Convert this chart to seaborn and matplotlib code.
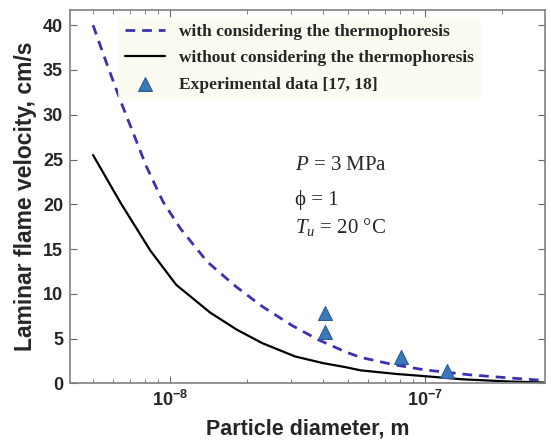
import numpy as np
import pandas as pd
import matplotlib
matplotlib.use("Agg")
import matplotlib.pyplot as plt
import seaborn as sns
from matplotlib.ticker import LogLocator, NullFormatter, MultipleLocator

# ---- data ----
diam_with = [5e-9, 5.66e-9, 6.4e-9, 7.2e-9, 8.1e-9, 9.4e-9, 1.1e-8, 1.4e-8, 1.8e-8,
             2.3e-8, 3e-8, 3.8e-8, 4.9e-8, 5.6e-8, 7.5e-8, 1e-7, 1.5e-7, 2.15e-7, 3e-7]
v_with = [40.0, 35.7, 31.6, 27.9, 24.2, 20.3, 17.3, 13.6, 10.9,
          8.6, 6.5, 4.9, 3.5, 2.9, 2.1, 1.5, 0.95, 0.6, 0.3]
diam_without = [5e-9, 6.4e-9, 8.4e-9, 1.06e-8, 1.44e-8, 1.83e-8, 2.3e-8, 3.1e-8,
                4e-8, 4.9e-8, 5.6e-8, 7.7e-8, 1e-7, 1.4e-7, 2.15e-7, 3e-7]
v_without = [25.5, 20.2, 14.8, 11.0, 7.9, 6.0, 4.5, 3.0,
             2.25, 1.8, 1.45, 1.05, 0.8, 0.45, 0.2, 0.08]
exp_d = [4.06e-8, 4.06e-8, 8.1e-8, 1.22e-7]
exp_v = [7.9, 5.7, 2.9, 1.4]

lab_with = "with considering the thermophoresis"
lab_without = "without considering the thermophoresis"
lab_exp = "Experimental data [17, 18]"

df_with = pd.DataFrame({"d": diam_with, "v": v_with})
df_without = pd.DataFrame({"d": diam_without, "v": v_without})
dexp = pd.DataFrame({"d": exp_d, "v": exp_v})

sns.set_style("ticks")
plt.rcParams["font.family"] = ["Liberation Sans", "DejaVu Sans"]
plt.rcParams["mathtext.fontset"] = "custom"
plt.rcParams["mathtext.rm"] = "Liberation Serif"
plt.rcParams["mathtext.it"] = "Liberation Serif:italic"
plt.rcParams["mathtext.bf"] = "Liberation Serif:bold"

fig = plt.figure(figsize=(5.51, 4.41), dpi=100)
ax = fig.add_axes([0.127, 0.1308, 0.862, 0.8465])

sns.lineplot(data=df_with, x="d", y="v", ax=ax, color="#3a33ad", lw=2.0,
             linestyle=(0, (3.5, 2.5)), label=lab_with)
sns.lineplot(data=df_without, x="d", y="v", ax=ax, color="black", lw=1.6,
             label=lab_without)
sns.scatterplot(data=dexp, x="d", y="v", ax=ax, marker="^", s=100,
                color="#3b78b8", edgecolor="#2a5d96", linewidth=0.8,
                label=lab_exp, zorder=5)

ax.set_xscale("log")
ax.set_xlim(4.06e-9, 2.96e-7)
ax.set_ylim(0, 41.7)
ax.yaxis.set_major_locator(MultipleLocator(5))
ax.xaxis.set_major_locator(LogLocator(base=10, numticks=10))
ax.xaxis.set_minor_locator(LogLocator(base=10, subs=np.arange(2, 10), numticks=20))
ax.xaxis.set_minor_formatter(NullFormatter())

ax.tick_params(which="both", direction="in", top=True, right=True, color="#666666")
ax.tick_params(which="major", length=5, labelsize=13, pad=5)
ax.tick_params(which="minor", length=3)
for lbl in ax.get_xticklabels() + ax.get_yticklabels():
    lbl.set_fontweight("bold")
for sp in ax.spines.values():
    sp.set_color("#808080")
    sp.set_linewidth(1.2)

ax.set_xlabel("Particle diameter, m", fontsize=15.5, fontweight="bold", labelpad=6)
ax.set_ylabel("Laminar flame velocity, cm/s", fontsize=16.5, fontweight="bold", labelpad=4)

leg = ax.legend(loc="upper left", bbox_to_anchor=(0.101, 0.982), frameon=True,
                prop={"family": "Liberation Serif", "weight": "bold", "size": 12.5},
                handlelength=2.3, handletextpad=0.8, labelspacing=0.6,
                borderaxespad=0.0, borderpad=0.4)
leg.get_frame().set_facecolor("#fbfbee")
leg.get_frame().set_edgecolor("none")
leg.get_frame().set_alpha(0.8)

serif = ["Liberation Serif", "DejaVu Serif"]
ax.text(0.474, 0.571, r"$P$ = 3 MPa", transform=ax.transAxes,
        fontsize=15, family=serif, va="baseline", ha="left")
ax.text(0.474, 0.478, "ϕ = 1", transform=ax.transAxes,
        fontsize=15, family=serif, va="baseline", ha="left")
ax.text(0.474, 0.402, r"$T_u$ = 20 °C", transform=ax.transAxes,
        fontsize=15, family=serif, va="baseline", ha="left")

fig.savefig("out.png", dpi=100)
